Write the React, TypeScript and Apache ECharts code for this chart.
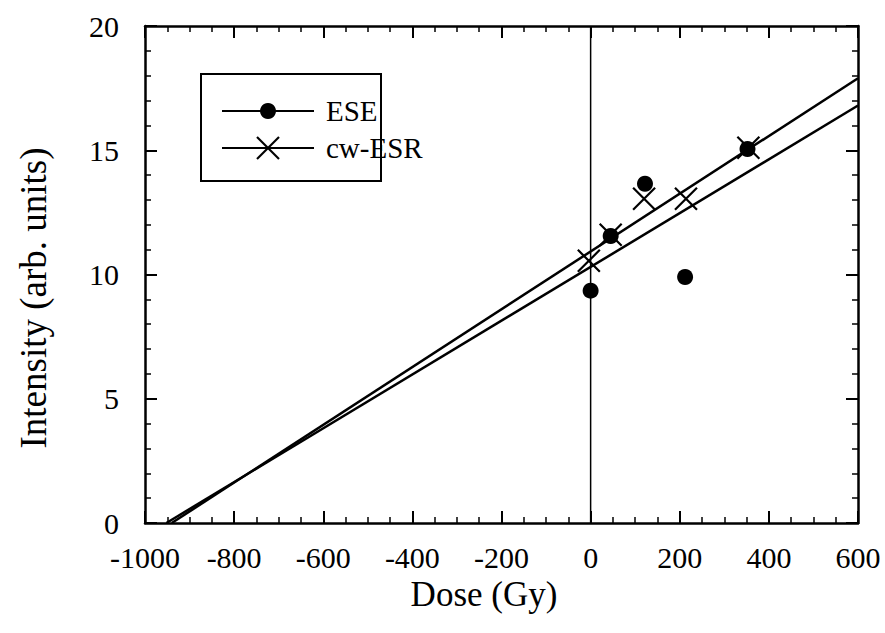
import React, { useEffect, useRef } from "react";
import * as echarts from "echarts";

// Measured intensities versus dose
const eseDose = [0, 45, 122, 212, 352];
const eseIntensity = [9.35, 11.55, 13.65, 9.9, 15.05];
const esrDose = [-4, 45, 120, 214, 354];
const esrIntensity = [10.55, 11.6, 13.05, 13.05, 15.1];

// Linear fits, given by their end points
const fitA = [
  [-940, 0],
  [600, 17.9],
];
const fitB = [
  [-952, 0],
  [600, 16.8],
];
const zeroLine = [
  [0, 0],
  [0, 20],
];

const xTicks = { min: -1000, max: 600, step: 200 };
const yTicks = { min: 0, max: 20, step: 5 };

const xTitle = "Dose (Gy)";
const yTitle = "Intensity (arb. units)";

const FONT = "'Liberation Serif', 'Times New Roman', serif";
const CROSS = "path://M0,0L10,10M10,0L0,10";

export default function App() {
  const ref = useRef<HTMLDivElement>(null);

  useEffect(() => {
    if (!ref.current) return;
    const chart = echarts.init(ref.current, null, { renderer: "svg" });

    const axisLine = { show: true, onZero: false, lineStyle: { color: "#000", width: 2.5 } };
    const xCommon = {
      type: "value" as const,
      min: xTicks.min,
      max: xTicks.max,
      interval: xTicks.step,
      axisLine,
      splitLine: { show: false },
      axisTick: { inside: true, length: 12, lineStyle: { color: "#000", width: 2 } },
      minorTick: { show: true, splitNumber: 4, length: 6, lineStyle: { color: "#000", width: 1.5 } },
      minorSplitLine: { show: false },
    };
    const yCommon = {
      type: "value" as const,
      min: yTicks.min,
      max: yTicks.max,
      interval: yTicks.step,
      axisLine,
      splitLine: { show: false },
      axisTick: { inside: true, length: 12, lineStyle: { color: "#000", width: 2 } },
      minorTick: { show: true, splitNumber: 5, length: 6, lineStyle: { color: "#000", width: 1.5 } },
      minorSplitLine: { show: false },
    };

    const esePoints = eseDose.map((d, i) => [d, eseIntensity[i]]);
    const esrPoints = esrDose.map((d, i) => [d, esrIntensity[i]]);

    const legendX = 200;
    const legendY = 73;

    chart.setOption({
      animation: false,
      backgroundColor: "#fff",
      textStyle: { fontFamily: FONT },
      grid: { left: 145, right: 27, top: 26, bottom: 110 },
      xAxis: [
        {
          ...xCommon,
          position: "bottom",
          axisLabel: {
            margin: 19,
            fontFamily: FONT,
            fontSize: 30,
            color: "#000",
            formatter: (v: number) => String(v),
          },
        },
        { ...xCommon, position: "top", axisLabel: { show: false } },
      ],
      yAxis: [
        {
          ...yCommon,
          position: "left",
          axisLabel: { margin: 26, fontFamily: FONT, fontSize: 30, color: "#000" },
        },
        { ...yCommon, position: "right", axisLabel: { show: false } },
      ],
      series: [
        {
          type: "line",
          data: zeroLine,
          showSymbol: false,
          lineStyle: { color: "#000", width: 1.5 },
          silent: true,
        },
        {
          type: "line",
          data: fitA,
          showSymbol: false,
          lineStyle: { color: "#000", width: 2.5 },
          silent: true,
        },
        {
          type: "line",
          data: fitB,
          showSymbol: false,
          lineStyle: { color: "#000", width: 2.5 },
          silent: true,
        },
        {
          name: "cw-ESR",
          type: "scatter",
          data: esrPoints,
          symbol: CROSS,
          symbolSize: 22,
          itemStyle: { color: "rgba(0,0,0,0)", borderColor: "#000", borderWidth: 2.2, opacity: 1 },
        },
        {
          name: "ESE",
          type: "scatter",
          data: esePoints,
          symbol: "circle",
          symbolSize: 16,
          itemStyle: { color: "#000", opacity: 1 },
        },
      ],
      graphic: [
        {
          type: "text",
          x: 484,
          y: 594,
          style: {
            text: xTitle,
            font: `35px ${FONT}`,
            fill: "#000",
            align: "center",
            verticalAlign: "middle",
          },
        },
        {
          type: "text",
          x: 33,
          y: 298,
          rotation: Math.PI / 2,
          style: {
            text: yTitle,
            font: `37px ${FONT}`,
            fill: "#000",
            align: "center",
            verticalAlign: "middle",
          },
        },
        {
          type: "group",
          left: legendX,
          top: legendY,
          children: [
            {
              type: "rect",
              shape: { x: 0, y: 0, width: 180, height: 107 },
              style: { fill: "#fff", stroke: "#000", lineWidth: 2 },
            },
            {
              type: "line",
              shape: { x1: 21, y1: 37, x2: 113, y2: 37 },
              style: { stroke: "#000", lineWidth: 2 },
            },
            {
              type: "circle",
              shape: { cx: 67, cy: 37, r: 8 },
              style: { fill: "#000" },
            },
            {
              type: "text",
              x: 125,
              y: 37,
              style: { text: "ESE", font: `29px ${FONT}`, fill: "#000", verticalAlign: "middle" },
            },
            {
              type: "line",
              shape: { x1: 21, y1: 74, x2: 113, y2: 74 },
              style: { stroke: "#000", lineWidth: 2 },
            },
            {
              type: "line",
              shape: { x1: 56, y1: 63, x2: 78, y2: 85 },
              style: { stroke: "#000", lineWidth: 2.2 },
            },
            {
              type: "line",
              shape: { x1: 78, y1: 63, x2: 56, y2: 85 },
              style: { stroke: "#000", lineWidth: 2.2 },
            },
            {
              type: "text",
              x: 125,
              y: 74,
              style: { text: "cw-ESR", font: `29px ${FONT}`, fill: "#000", verticalAlign: "middle" },
            },
          ],
        },
      ],
    });

    return () => chart.dispose();
  }, []);

  return (
    <div
      ref={ref}
      style={{ position: "absolute", left: 0, top: 0, width: 885, height: 633 }}
    />
  );
}
